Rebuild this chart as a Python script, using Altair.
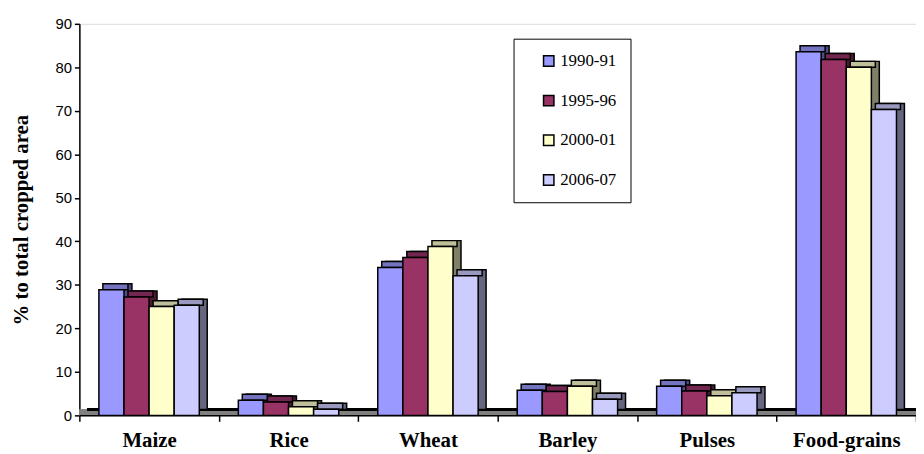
import json
import altair as alt
import pandas as pd

crops = ["Maize", "Rice", "Wheat", "Barley", "Pulses", "Food-grains"]
seasons = ["1990-91", "1995-96", "2000-01", "2006-07"]
v1990 = [28.9, 3.5, 34.0, 5.8, 6.7, 83.6]
v1995 = [27.2, 3.1, 36.3, 5.5, 5.6, 81.8]
v2000 = [25.0, 2.0, 38.8, 6.7, 4.5, 80.0]
v2006 = [25.3, 1.4, 32.1, 3.7, 5.2, 70.3]
y_ticks = list(range(0, 91, 10))

front_colors = ["#9999ff", "#993366", "#ffffcc", "#ccccff"]
top_colors = ["#7373bf", "#732650", "#bfbf99", "#9999bf"]
side_colors = ["#4d4d80", "#4d1a33", "#808066", "#666680"]

rows = []
for s, vals in zip(seasons, [v1990, v1995, v2000, v2006]):
    for c, v in zip(crops, vals):
        rows.append({"Crop": c, "Season": s, "Value": v})
df = pd.DataFrame(rows)

W, H = 844, 395
DX, DY = 8, 6
BW = 0.18  # bar width as a fraction of one category band

x_axis = alt.Axis(
    title=None, labelAngle=0, tickBand="extent", tickSize=6, tickColor="black",
    domainColor="black", labelFont="Liberation Serif", labelFontWeight="bold",
    labelFontSize=21, labelColor="black", labelPadding=8, domainWidth=1.5, tickWidth=1.5,
)
y_axis = alt.Axis(
    title="% to total cropped area", values=y_ticks, grid=False, tickSize=5,
    tickColor="black", domainColor="black", labelFont="Liberation Sans",
    labelFontSize=15, labelColor="black", labelPadding=3, titleFont="Liberation Serif",
    titleFontWeight="bold", titleFontSize=21, titleColor="black", titlePadding=24,
    domainWidth=1.5, tickWidth=1.5,
)
y_scale = alt.Scale(domain=[0, 90], nice=False)

base = alt.Chart(df)

# floor (also carries the category axis)
floor = base.mark_rect(fill="#808080", yOffset=-DY, y2Offset=0).encode(
    x=alt.X("Crop:N", sort=crops, axis=x_axis,
            scale=alt.Scale(domain=crops, paddingInner=0, paddingOuter=0)),
    y=alt.Y(datum=0, axis=y_axis, scale=y_scale),
    y2=alt.datum(0),
)
floor_edge = base.mark_rule(color="black", strokeWidth=1.5, yOffset=-DY).encode(
    x=alt.value(DX), x2=alt.value(W), y=alt.datum(0),
)

bars = base.transform_calculate(
    ci=f"indexof({json.dumps(crops)}, datum.Crop)",
    si=f"indexof({json.dumps(seasons)}, datum.Season)",
).transform_calculate(
    xa=f"datum.ci - {2 * BW} + datum.si * {BW}",
).transform_calculate(
    xb=f"datum.xa + {BW}",
)

xq = alt.X("xa:Q", axis=None,
           scale=alt.Scale(domain=[-0.5, len(crops) - 0.5], nice=False, zero=False))

side = bars.mark_rect(stroke="black", strokeWidth=1.5, xOffset=DX, x2Offset=DX,
                      yOffset=-DY, y2Offset=-DY).encode(
    x=xq, x2="xb:Q",
    y=alt.Y("Value:Q", axis=y_axis, scale=y_scale), y2=alt.datum(0),
    color=alt.Color("Season:N", sort=seasons,
                    scale=alt.Scale(domain=seasons, range=side_colors), legend=None),
)

top = bars.mark_rect(stroke="black", strokeWidth=1.5, xOffset=DX / 2, x2Offset=DX / 2,
                     yOffset=-DY, y2Offset=0).encode(
    x=xq, x2="xb:Q",
    y=alt.Y("Value:Q", axis=y_axis, scale=y_scale), y2="Value:Q",
    color=alt.Color("Season:N", sort=seasons,
                    scale=alt.Scale(domain=seasons, range=top_colors), legend=None),
)

front = bars.mark_rect(stroke="black", strokeWidth=1.5).encode(
    x=xq, x2="xb:Q",
    y=alt.Y("Value:Q", axis=y_axis, scale=y_scale), y2=alt.datum(0),
    color=alt.Color("Season:N", sort=seasons,
                    scale=alt.Scale(domain=seasons, range=front_colors),
                    legend=alt.Legend(
                        title=None, orient="none", legendX=438, legendY=15,
                        padding=14, symbolOffset=13, rowPadding=22,
                        labelFont="Liberation Serif", labelFontSize=17,
                        labelColor="black", symbolType="square", symbolSize=110,
                        symbolStrokeColor="black", symbolStrokeWidth=1.5,
                        symbolOpacity=1, strokeColor="black", fillColor="white",
                        labelOffset=3,
                    )),
)

chart = alt.layer(floor, floor_edge, side, top, front).resolve_scale(
    color="independent", x="independent"
).properties(
    width=W, height=H,
    autosize=alt.AutoSizeParams(type="none"),
    padding={"left": 72, "top": 14, "right": 0, "bottom": 36},
).configure_view(stroke=None).configure(background="white")

chart.save("out.html", embed_options={"renderer": "svg", "actions": False})
